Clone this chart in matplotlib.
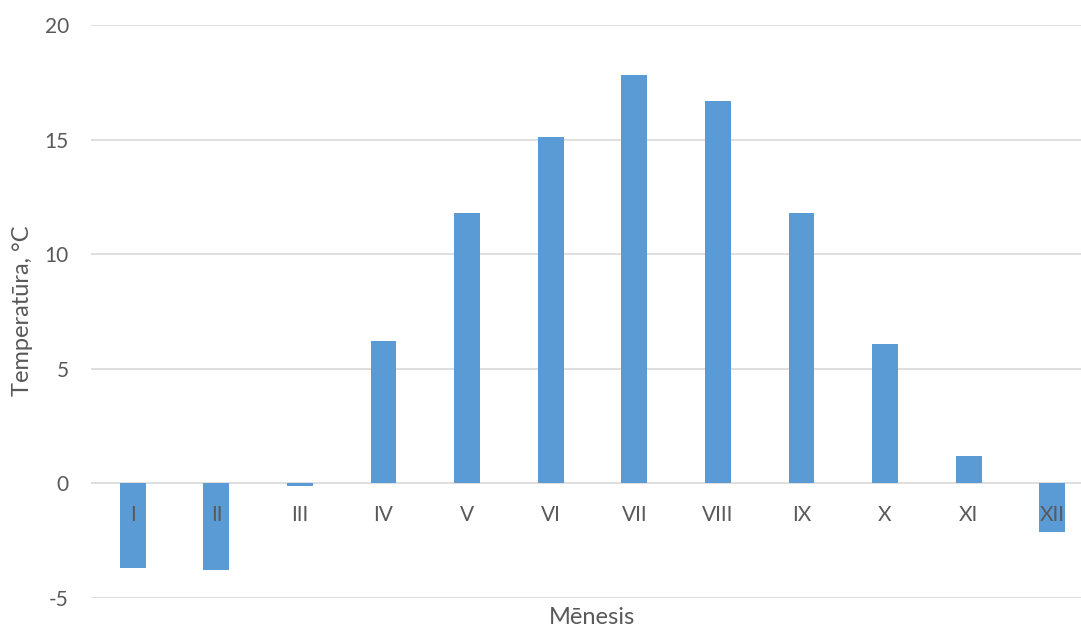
import matplotlib
import matplotlib.pyplot as plt

matplotlib.use('Agg')

plt.rcParams['font.family'] = ['Lato', 'DejaVu Sans']

# --- Monthly mean temperature ---

months = ['I', 'II', 'III', 'IV', 'V', 'VI', 'VII', 'VIII', 'IX', 'X', 'XI', 'XII']
temps = [-3.7, -3.8, -0.1, 6.2, 11.8, 15.1, 17.8, 16.7, 11.8, 6.1, 1.2, -2.1]
yticks = [-5, 0, 5, 10, 15, 20]

text_color = '#595959'
grid_color = '#d9d9d9'
bar_color = '#5b9bd5'

fig = plt.figure(figsize=(10.81, 6.3), dpi=100)
ax = fig.add_axes([91 / 1081, 1 - 598 / 630, 1003 / 1081, 573 / 630])

x = list(range(len(months)))
ax.bar(x, temps, width=0.31, color=bar_color, zorder=3)

ax.set_xlim(-0.5, len(months) - 0.5)
ax.set_ylim(-5, 20)
ax.set_yticks(yticks)
ax.set_yticklabels([str(v) for v in yticks])
ax.set_axisbelow(True)
ax.yaxis.grid(True, color=grid_color, linewidth=1.2)
ax.set_xticks([])
for side in ['top', 'right', 'left', 'bottom']:
    ax.spines[side].set_visible(False)

ax.tick_params(axis='y', length=0, pad=16, labelsize=15, labelcolor=text_color)

# category labels sit just under the zero line, drawn over the bars
for i, name in zip(x, months):
    ax.annotate(name, xy=(i, 0), xytext=(0, -23), textcoords='offset points',
                ha='center', va='center', fontsize=15, color=text_color,
                zorder=5)

fig.text(23 / 1081, 1 - 311 / 630, 'Temperatūra, °C', rotation=90,
         ha='center', va='center', fontsize=17, color=text_color)
fig.text(592 / 1081, 1 - 618 / 630, 'Mēnesis',
         ha='center', va='center', fontsize=17, color=text_color)

fig.savefig('out.png', dpi=100)
